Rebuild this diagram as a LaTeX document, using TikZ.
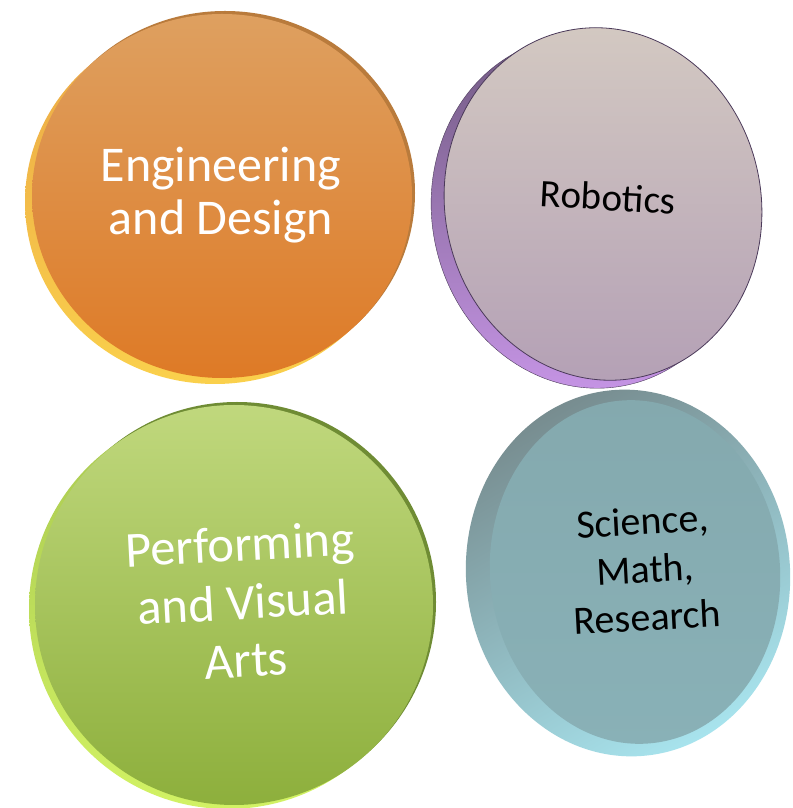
\documentclass[tikz,border=0pt]{standalone}
\usepackage{fontspec}
\setmainfont{Carlito}
\usetikzlibrary{shapes.geometric}
\definecolor{orTop}{HTML}{DEA060}
\definecolor{orBot}{HTML}{DE7A26}
\definecolor{orRimA}{HTML}{EBA846}
\definecolor{orRimB}{HTML}{FAD04C}
\definecolor{orEdge}{HTML}{B97B3C}
\definecolor{grTop}{HTML}{C0D87D}
\definecolor{grBot}{HTML}{8DAF3C}
\definecolor{grRimA}{HTML}{A8C850}
\definecolor{grRimB}{HTML}{D2F264}
\definecolor{grEdge}{HTML}{6F8C34}
\definecolor{puTop}{HTML}{D4CAC2}
\definecolor{puBot}{HTML}{B39FB5}
\definecolor{puLine}{HTML}{4B3A5A}
\definecolor{puRimA}{HTML}{6E587E}
\definecolor{puRimB}{HTML}{C896E8}
\definecolor{teFaceA}{HTML}{84A9AE}
\definecolor{teFaceB}{HTML}{89B1B7}
\definecolor{teRimA}{HTML}{778C8F}
\definecolor{teRimB}{HTML}{A8E4EE}
\tikzset{
  disc/.style={ellipse, inner sep=0pt, outer sep=0pt, draw=none},
  lbl/.style={align=center, inner sep=0pt},
  whitelbl/.style={lbl, text=white},
  blacklbl/.style={lbl, text=black},
}
\begin{document}
\begin{tikzpicture}[x=1pt,y=1pt]
\useasboundingbox[fill=white] (0,0) rectangle (792,808);

% Engineering and Design (orange)
\node[disc, minimum width=380pt, minimum height=364pt, fill=orEdge] (engedge) at (225,615) {};
\node[disc, minimum width=380pt, minimum height=364pt, top color=orRimA, bottom color=orRimB] (engrim) at (215,606) {};
\node[disc, minimum width=380pt, minimum height=364pt, top color=orTop, bottom color=orBot] (engface) at (222,612) {};
\node[whitelbl, font=\fontsize{50}{53}\selectfont] (englbl) at (221,613) {Engineering\\and Design};

% Robotics (purple)
\node[disc, minimum width=316pt, minimum height=354pt, rotate=12, top color=puRimA, bottom color=puRimB, draw=puLine, line width=0.4pt] (robrim) at (590,596) {};
\node[disc, minimum width=316pt, minimum height=354pt, rotate=12, top color=puTop, bottom color=puBot, draw=puLine, line width=0.8pt] (robface) at (603,604) {};
\node[blacklbl, font=\fontsize{39}{46}\selectfont, rotate=-3] (roblbl) at (608,611) {Robotics};

% Performing and Visual Arts (green)
\node[disc, minimum width=398pt, minimum height=400pt, fill=grEdge] (artedge) at (237,206) {};
\node[disc, minimum width=398pt, minimum height=400pt, top color=grRimA, bottom color=grRimB] (artrim) at (228,199) {};
\node[disc, minimum width=398pt, minimum height=400pt, top color=grTop, bottom color=grBot] (artface) at (234,203) {};
\node[whitelbl, font=\fontsize{50.5}{58}\selectfont, rotate=3] (artlbl) at (243,206) {Performing\\and Visual\\Arts};

% Science, Math, Research (teal)
\node[disc, minimum width=324pt, minimum height=367pt, rotate=5, top color=teRimA, bottom color=teRimB, shading angle=30] (scirim) at (628,235) {};
\node[disc, minimum width=290pt, minimum height=344pt, rotate=5, top color=teFaceA, bottom color=teFaceB] (sciface) at (635,236) {};
\node[blacklbl, font=\fontsize{40}{48}\selectfont, rotate=3] (scilbl) at (645,239) {Science,\\Math,\\Research};
\end{tikzpicture}
\end{document}
